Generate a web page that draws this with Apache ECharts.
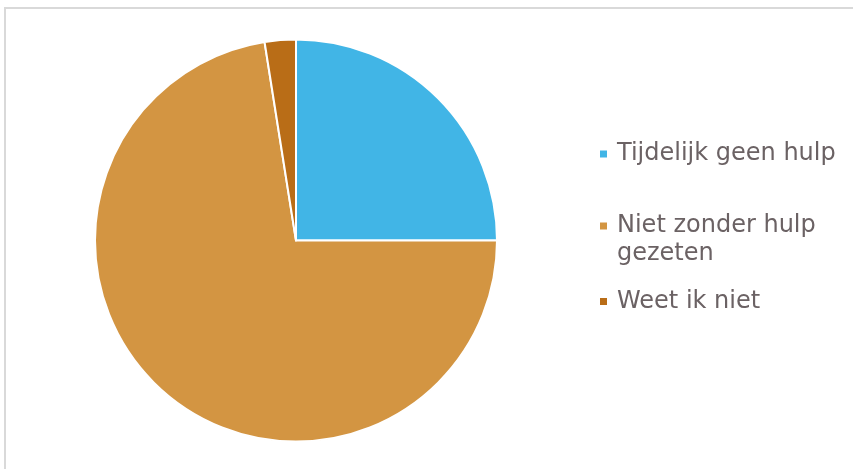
<!DOCTYPE html>
<html>
<head>
<meta charset="utf-8">
<script src="https://cdn.jsdelivr.net/npm/echarts@6/dist/echarts.min.js"></script>
<style>
  html, body { margin: 0; padding: 0; background: #ffffff; }
  #chart { width: 853px; height: 469px; }
</style>
</head>
<body>
<div id="chart"></div>
<script>
// Answer categories and their shares (percent)
const categories = ['Tijdelijk geen hulp', 'Niet zonder hulp gezeten', 'Weet ik niet'];
const shares = [25.0, 72.5, 2.5];
const sliceColors = ['#41b5e6', '#d39542', '#b96d17'];

// Legend label text; the second item wraps onto two lines and keeps its
// marker level with the first line (blank leading line balances the block)
const legendLabels = {
  'Tijdelijk geen hulp': 'Tijdelijk geen hulp',
  'Niet zonder hulp gezeten': '\nNiet zonder hulp\ngezeten',
  'Weet ik niet': 'Weet ik niet'
};

const textColor = '#6b6264';
const fontFamily = '"DejaVu Sans", Verdana, sans-serif';

function legendFor(name, top) {
  return {
    data: [name],
    left: 600,
    top: top,
    padding: 0,
    orient: 'vertical',
    icon: 'rect',
    itemWidth: 7,
    itemHeight: 7,
    itemGap: 0,
    selectedMode: false,
    itemStyle: { borderWidth: 0 },
    formatter: n => legendLabels[n],
    textStyle: {
      color: textColor,
      fontFamily: fontFamily,
      fontSize: 24,
      lineHeight: 28,
      padding: [0, 0, 0, 5]
    }
  };
}

const chart = echarts.init(document.getElementById('chart'), null, { renderer: 'canvas' });
chart.setOption({
  backgroundColor: '#ffffff',
  animation: false,
  color: sliceColors,
  graphic: [{
    type: 'rect',
    shape: { x: 5, y: 8, width: 900, height: 500 },
    style: { fill: 'none', stroke: '#d9d9d9', lineWidth: 2 },
    silent: true
  }],
  legend: [
    legendFor(categories[0], 140),
    legendFor(categories[1], 184),
    legendFor(categories[2], 287.5)
  ],
  series: [{
    type: 'pie',
    center: [296, 240.5],
    radius: [0, 201],
    startAngle: 90,
    clockwise: true,
    label: { show: false },
    labelLine: { show: false },
    emphasis: { disabled: true },
    itemStyle: { borderColor: '#ffffff', borderWidth: 2 },
    data: categories.map((c, i) => ({ name: c, value: shares[i] }))
  }]
});
</script>
</body>
</html>
